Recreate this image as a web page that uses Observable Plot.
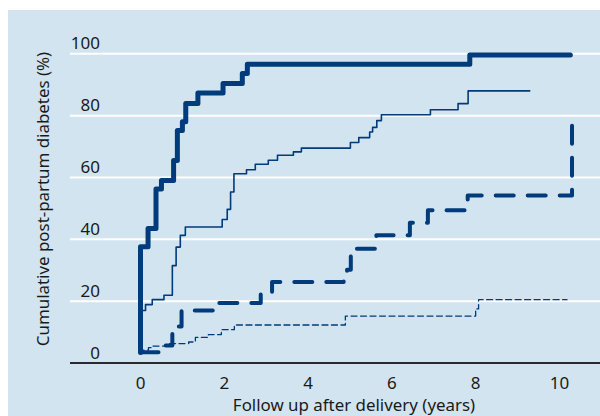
<!DOCTYPE html>
<html>
<head>
<meta charset="utf-8">
<script src="https://cdn.jsdelivr.net/npm/d3@7"></script>
<script src="https://cdn.jsdelivr.net/npm/@observablehq/plot@0.6"></script>
<style>
  html, body { margin: 0; padding: 0; background: #ffffff; }
  #panel { position: absolute; left: 8px; top: 10px; width: 592px; height: 406px; background: #d2e4ef; overflow: hidden; }
</style>
</head>
<body>
<div id="panel"></div>
<script>
// Thick solid line
const yearsA = [0, 0, 0.18, 0.37, 0.5, 0.79, 0.88, 1.0, 1.08, 1.37, 1.97, 2.43, 2.55, 7.86, 10.26];
const pctA   = [3.4, 37.6, 43.5, 56.3, 59.0, 65.5, 75.2, 78.0, 83.9, 87.3, 90.4, 93.6, 96.6, 99.6, 99.6];
// Thin solid line
const yearsB = [0, 0, 0.12, 0.28, 0.56, 0.76, 0.85, 0.95, 1.07, 1.95, 2.07, 2.15, 2.23, 2.53, 2.74, 3.05, 3.27, 3.65, 3.84, 5.01, 5.21, 5.47, 5.54, 5.64, 5.75, 6.92, 7.58, 7.82, 9.29];
const pctB   = [3.4, 17.0, 18.9, 20.5, 21.9, 31.5, 37.5, 41.3, 44.0, 46.4, 49.7, 55.3, 61.2, 62.5, 64.3, 65.6, 67.2, 68.3, 69.5, 71.3, 72.9, 74.7, 76.2, 78.4, 80.3, 81.9, 83.9, 88.0, 88.0];
// Thick dashed line
const yearsC = [0, 0.5, 0.76, 0.98, 1.75, 2.87, 3.14, 4.85, 4.93, 5.02, 5.63, 6.43, 6.86, 7.81, 10.30];
const pctC   = [3.5, 5.7, 11.8, 17.0, 19.4, 22.7, 26.2, 28.5, 30.2, 37.0, 41.3, 45.4, 49.4, 54.2, 77.4];
// Thin dashed line
const yearsD = [0, 0.05, 0.19, 0.29, 0.67, 1.15, 1.31, 1.62, 1.93, 2.24, 4.89, 8.0, 8.07, 10.18];
const pctD   = [3.4, 4.2, 5.0, 5.5, 6.3, 6.8, 8.3, 9.2, 10.8, 12.3, 15.2, 17.5, 20.5, 20.5];

const xTicks = [0, 2, 4, 6, 8, 10];
const yTicks = [0, 20, 40, 60, 80, 100];
const xTitle = "Follow up after delivery (years)";
const yTitle = "Cumulative post-partum diabetes (%)";

const toRows = (xs, ys) => xs.map((x, i) => ({x, y: ys[i]}));
const A = toRows(yearsA, pctA);
const B = toRows(yearsB, pctB);
const C = toRows(yearsC, pctC);
const D = toRows(yearsD, pctD);

const ink = "#003b7c";
const font = "'Noto Sans', 'Open Sans', sans-serif";

const chart = Plot.plot({
  width: 592,
  height: 406,
  marginLeft: 62,
  marginRight: 0,
  marginTop: 43.3,
  marginBottom: 53.45,
  x: {domain: [-1.671, 10.98], label: null},
  y: {domain: [0, 100], label: null},
  style: {background: "transparent", fontFamily: font, color: "#1a1a1a", overflow: "visible"},
  marks: [
    Plot.gridY(yTicks.filter(d => d > 0), {stroke: "#ffffff", strokeOpacity: 1, strokeWidth: 2}),
    Plot.ruleY([0], {stroke: "#2a2a2a", strokeWidth: 2}),
    Plot.axisY(yTicks, {tickSize: 0, tickPadding: 3, dx: 32.5, dy: -10, fontSize: 17, textAnchor: "end"}),
    Plot.axisX(xTicks, {tickSize: 0, tickPadding: 14, fontSize: 17}),
    Plot.line(D, {x: "x", y: "y", curve: "step-after", stroke: ink, strokeWidth: 1.3, strokeDasharray: "6,3.5"}),
    Plot.line(C, {x: "x", y: "y", curve: "step-after", stroke: ink, strokeWidth: 4, strokeDasharray: "18,14"}),
    Plot.line(B, {x: "x", y: "y", curve: "step-after", stroke: ink, strokeWidth: 1.6}),
    Plot.line(A, {x: "x", y: "y", curve: "step-after", stroke: ink, strokeWidth: 5}),
    Plot.text([xTitle], {frameAnchor: "bottom", dx: 18.5, dy: 43, fontSize: 16.9, textAnchor: "middle", lineAnchor: "middle", fill: "#1a1a1a"}),
    Plot.text([yTitle], {frameAnchor: "left", dx: -27, dy: -9.4, rotate: -90, fontSize: 16.9, textAnchor: "middle", lineAnchor: "middle", fill: "#1a1a1a"})
  ]
});
document.getElementById("panel").appendChild(chart);
</script>
</body>
</html>
